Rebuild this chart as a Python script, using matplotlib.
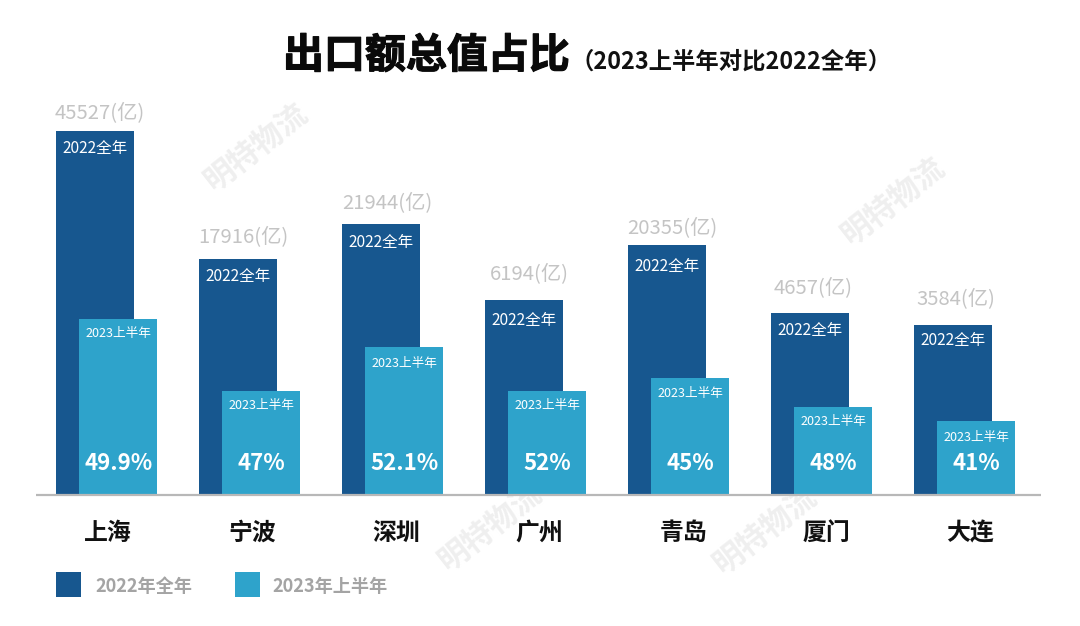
import matplotlib
matplotlib.use("Agg")
import matplotlib.pyplot as plt
import matplotlib.patheffects as pe
from matplotlib.patches import Rectangle

plt.rcParams['font.family'] = ['Noto Sans CJK SC', 'DejaVu Sans']

cities = ["上海", "宁波", "深圳", "广州", "青岛", "厦门", "大连"]
totals_2022 = ["45527(亿)", "17916(亿)", "21944(亿)", "6194(亿)", "20355(亿)", "4657(亿)", "3584(亿)"]
shares = ["49.9%", "47%", "52.1%", "52%", "45%", "48%", "41%"]
# The reference's bars are schematic, not to scale; these are their drawn heights.
heights_2022 = [364, 236, 271, 195, 250, 182, 170]
heights_2023 = [176, 104, 148, 104, 117, 88, 74]

DARK = "#17578F"
LIGHT = "#2EA3CB"
W, H = 1080, 626
STEP = 143.0
X0 = 95.2
BASE = 495.0

# hand-placed label offsets (pixels) as in the reference
total_gap = [18, 22, 21, 26, 17, 25, 26]
total_dx = [5, 5, 6, 5, 5, 3, 3]
label22_drop = [18, 17, 19, 21, 22, 17, 16]
label23_drop = [15, 14, 17, 14, 15, 15, 16]
city_dx = [13, 14, 15, 15, 16, 16, 17]

fig = plt.figure(figsize=(W / 100, H / 100), dpi=100, facecolor="white")
ax = fig.add_axes([0, 0, 1, 1])
ax.set_xlim(-X0 / STEP, (W - X0) / STEP)
ax.set_ylim(BASE - H, BASE)
ax.axis("off")

bw = 78 / STEP
off = 23 / STEP
xs = list(range(len(cities)))

# watermarks, behind the bars (figure pixel placement)
for (px, py) in [(256, 147), (893, 201), (490, 527), (765, 530)]:
    ax.text(px / W, 1 - py / H, "明特物流", fontsize=22, fontweight="bold", color="#EFEFEF",
            rotation=38, ha="center", va="center", zorder=1, transform=fig.transFigure)

ax.bar(xs, heights_2022, width=bw, color=DARK, zorder=2)
ax.bar([x + off for x in xs], heights_2023, width=bw, color=LIGHT, zorder=3)
ax.plot([-59 / STEP, 946 / STEP], [0, 0], color="#B8B8B8", lw=1.6, zorder=4, solid_capstyle="butt")

for i, x in enumerate(xs):
    h1, h2 = heights_2022[i], heights_2023[i]
    ax.text(x + total_dx[i] / STEP, h1 + total_gap[i], totals_2022[i], color="#C4C4C4", fontsize=14.6,
            ha="center", va="center", zorder=5)
    ax.text(x, h1 - label22_drop[i], "2022全年", color="white", fontsize=11.2, ha="center", va="center", zorder=5)
    ax.text(x + off, h2 - label23_drop[i], "2023上半年", color="white", fontsize=9.1, ha="center", va="center", zorder=5)
    ax.text(x + off, 31, shares[i], color="white", fontsize=16, fontweight="bold", ha="center", va="center", zorder=5)
    ax.text(x + city_dx[i] / STEP, -38, cities[i], color="#111111", fontsize=17.2, fontweight="bold", ha="center", va="center", zorder=5)

# title
fig.text(426.5 / W, 1 - 56 / H, "出口额总值占比", fontsize=29.5, fontweight="bold", color="#0A0A0A",
         ha="center", va="center", path_effects=[pe.withStroke(linewidth=0.8, foreground="#0A0A0A")])
fig.text(731 / W, 1 - 62 / H, "（2023上半年对比2022全年）", fontsize=16.8, fontweight="bold", color="#111111",
         ha="center", va="center")

# legend
for (px, col, label, tx) in [(56, DARK, "2022年全年", 95), (235, LIGHT, "2023年上半年", 272)]:
    fig.add_artist(Rectangle((px / W, 1 - 597 / H), 25 / W, 25 / H, transform=fig.transFigure, color=col, lw=0))
    fig.text(tx / W, 1 - 586 / H, label, fontsize=13.1, color="#9A9A9A", fontweight="bold", ha="left", va="center", alpha=0.9)

fig.savefig("out.png", dpi=100)
